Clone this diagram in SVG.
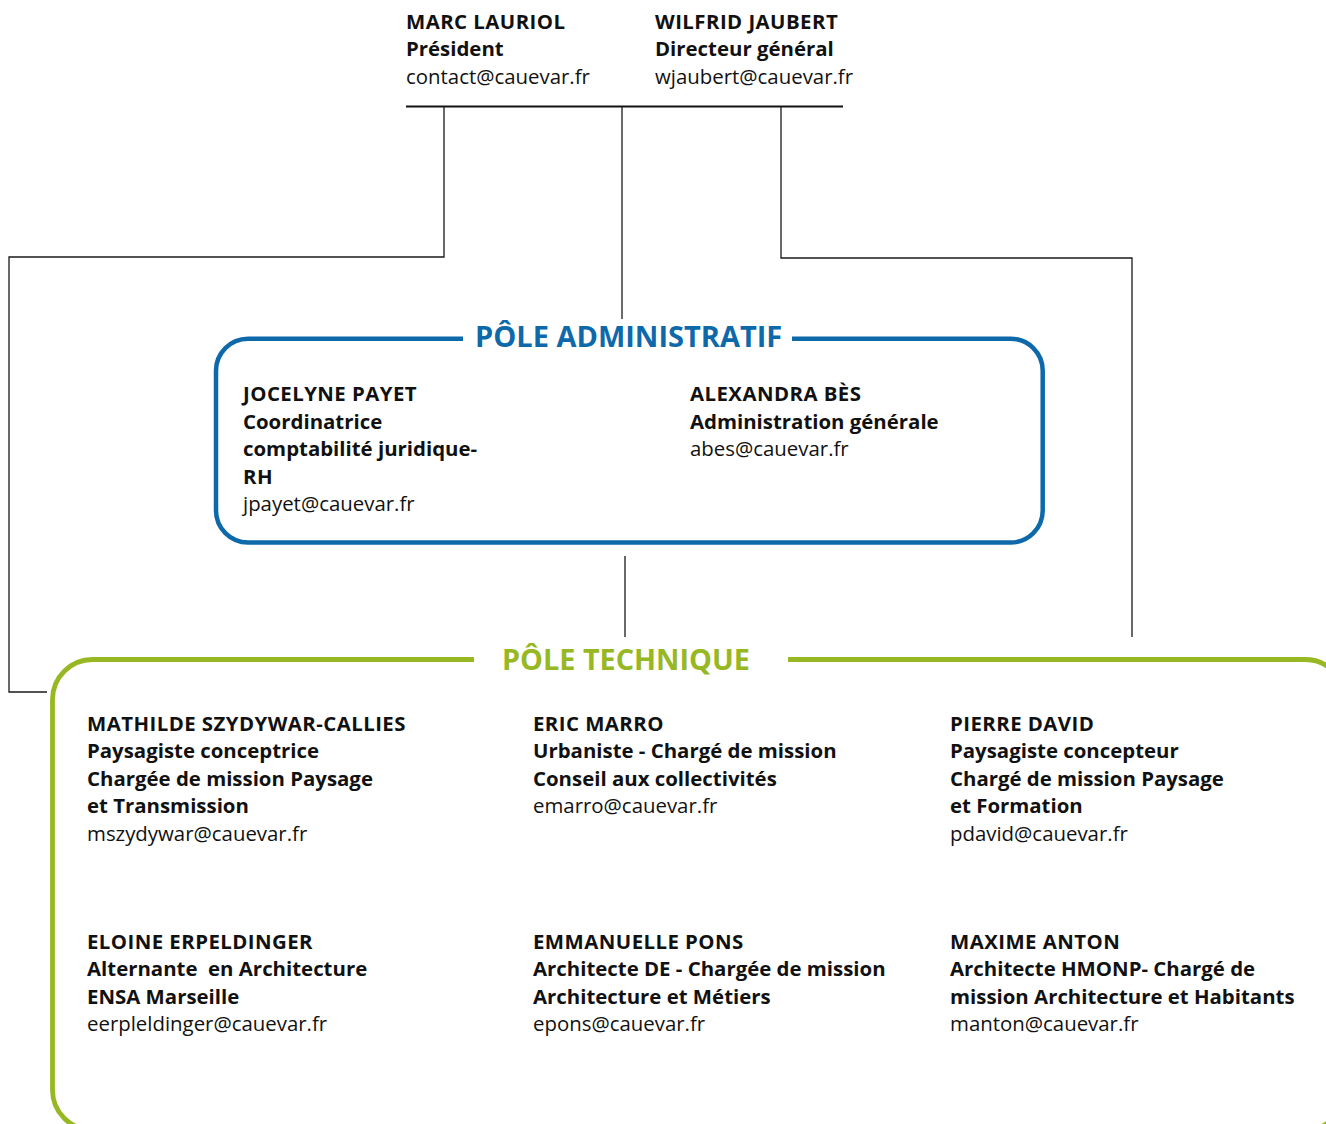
<svg xmlns="http://www.w3.org/2000/svg" width="1326" height="1124" viewBox="0 0 1326 1124">
<style>
text{font-family:"Open Sans","Noto Sans",sans-serif;fill:#111;font-size:20.4px}
.b{font-weight:700}
.n{font-weight:700;letter-spacing:0.45px}
.r{font-weight:400}
.conn{fill:none;stroke:#1a1a1a;stroke-width:1.3}
.ta{font-weight:700;font-size:29px;fill:#0e69ab}
.tt{font-weight:700;font-size:28.8px;fill:#97b823}
</style>
<rect width="1326" height="1124" fill="#fff"/>
<g id="connectors">
<line x1="406" y1="106.5" x2="843" y2="106.5" stroke="#111" stroke-width="2.2"/>
<polyline class="conn" points="444,106 444,257 9,257 9,692 47,692"/>
<polyline class="conn" points="622,106 622,319"/>
<polyline class="conn" points="781,106 781,258 1132,258 1132,637"/>
<polyline class="conn" points="625,556 625,637"/>
</g>
<g id="president">
<text x="406" y="29" class="n">MARC LAURIOL</text>
<text x="406" y="56" class="b">Président</text>
<text x="406" y="84" class="r">contact@cauevar.fr</text>
</g>
<g id="directeur">
<text x="655" y="29" class="n">WILFRID JAUBERT</text>
<text x="655" y="56" class="b">Directeur général</text>
<text x="655" y="84" class="r">wjaubert@cauevar.fr</text>
</g>
<g id="pole-administratif">
<path d="M463,338.7 H248 A32,32 0 0 0 216,370.7 V510.5 A32,32 0 0 0 248,542.5 H1010.7 A32,32 0 0 0 1042.7,510.5 V370.7 A32,32 0 0 0 1010.7,338.7 H792" fill="none" stroke="#0e69ab" stroke-width="4.5"/>
<text x="475" y="347" class="ta">PÔLE ADMINISTRATIF</text>
</g>
<g id="payet">
<text x="243" y="401" class="n">JOCELYNE PAYET</text>
<text x="243" y="429" class="b">Coordinatrice</text>
<text x="243" y="456" class="b">comptabilité juridique-</text>
<text x="243" y="484" class="n">RH</text>
<text x="243" y="511" class="r">jpayet@cauevar.fr</text>
</g>
<g id="bes">
<text x="690" y="401" class="n">ALEXANDRA BÈS</text>
<text x="690" y="429" class="b">Administration générale</text>
<text x="690" y="456" class="r">abes@cauevar.fr</text>
</g>
<g id="pole-technique">
<path d="M474,659.5 H92.5 A40,40 0 0 0 52.5,699.5 V1090 A40,40 0 0 0 92.5,1130 H1305 A40,40 0 0 0 1345,1090 V699.5 A40,40 0 0 0 1305,659.5 H788" fill="none" stroke="#97b823" stroke-width="4.8"/>
<text x="502" y="670" class="tt">PÔLE TECHNIQUE</text>
</g>
<g id="szydywar">
<text x="87" y="731" class="n">MATHILDE SZYDYWAR-CALLIES</text>
<text x="87" y="758" class="b">Paysagiste conceptrice</text>
<text x="87" y="786" class="b">Chargée de mission Paysage</text>
<text x="87" y="813" class="b">et Transmission</text>
<text x="87" y="841" class="r">mszydywar@cauevar.fr</text>
</g>
<g id="marro">
<text x="533" y="731" class="n">ERIC MARRO</text>
<text x="533" y="758" class="b">Urbaniste - Chargé de mission</text>
<text x="533" y="786" class="b">Conseil aux collectivités</text>
<text x="533" y="813" class="r">emarro@cauevar.fr</text>
</g>
<g id="david">
<text x="950" y="731" class="n">PIERRE DAVID</text>
<text x="950" y="758" class="b">Paysagiste concepteur</text>
<text x="950" y="786" class="b">Chargé de mission Paysage</text>
<text x="950" y="813" class="b">et Formation</text>
<text x="950" y="841" class="r">pdavid@cauevar.fr</text>
</g>
<g id="erpeldinger">
<text x="87" y="949" class="n">ELOINE ERPELDINGER</text>
<text x="87" y="976" class="b" style="white-space:pre">Alternante  en Architecture</text>
<text x="87" y="1004" class="b">ENSA Marseille</text>
<text x="87" y="1031" class="r">eerpleldinger@cauevar.fr</text>
</g>
<g id="pons">
<text x="533" y="949" class="n">EMMANUELLE PONS</text>
<text x="533" y="976" class="b">Architecte DE - Chargée de mission</text>
<text x="533" y="1004" class="b">Architecture et Métiers</text>
<text x="533" y="1031" class="r">epons@cauevar.fr</text>
</g>
<g id="anton">
<text x="950" y="949" class="n">MAXIME ANTON</text>
<text x="950" y="976" class="b">Architecte HMONP- Chargé de</text>
<text x="950" y="1004" class="b">mission Architecture et Habitants</text>
<text x="950" y="1031" class="r">manton@cauevar.fr</text>
</g>
</svg>
